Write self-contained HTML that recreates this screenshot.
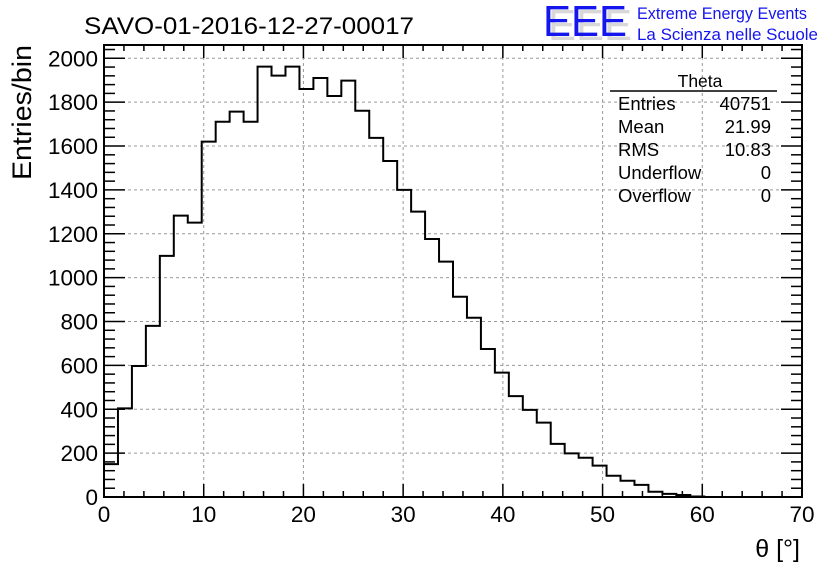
<!DOCTYPE html>
<html><head><meta charset="utf-8"><style>
html,body{margin:0;padding:0;background:#fff}
svg{display:block}
text{font-family:"Liberation Sans",sans-serif}
</style></head><body>
<svg width="836" height="572" viewBox="0 0 836 572" xmlns="http://www.w3.org/2000/svg">
<rect width="836" height="572" fill="#fff"/>
<text x="84" y="34" font-size="24" textLength="330" lengthAdjust="spacingAndGlyphs">SAVO-01-2016-12-27-00017</text>
<text x="548" y="40" font-size="44" fill="#d8d8d8" textLength="84" lengthAdjust="spacingAndGlyphs">EEE</text>
<text x="543" y="36" font-size="44" fill="#1515ee" textLength="84" lengthAdjust="spacingAndGlyphs">EEE</text>
<text x="637" y="19" font-size="16.5" fill="#1515ee" textLength="170" lengthAdjust="spacingAndGlyphs">Extreme Energy Events</text>
<text x="637" y="40" font-size="16.5" fill="#1515ee" textLength="181" lengthAdjust="spacingAndGlyphs">La Scienza nelle Scuole</text>
<g id="grid" stroke="#999" stroke-width="1" stroke-dasharray="3,3"></g>
<path id="hist" fill="none" stroke="#000" stroke-width="2"/>
<g id="ticks" stroke="#000" stroke-width="1.5"></g>
<rect x="104" y="45" width="698" height="452" fill="none" stroke="#000" stroke-width="2"/>
<g id="labels" font-size="22.5"></g>
<text transform="translate(31,180) rotate(-90)" font-size="27" textLength="135" lengthAdjust="spacingAndGlyphs">Entries/bin</text>
<text x="800" y="557" font-size="25" text-anchor="end">θ [°]</text>
<text x="700" y="87" font-size="17.5" text-anchor="middle">Theta</text>
<line x1="610" y1="91" x2="777" y2="91" stroke="#000" stroke-width="1.5"/>
<g font-size="18.5">
<text x="618" y="110">Entries</text><text x="771" y="110" text-anchor="end">40751</text>
<text x="618" y="133">Mean</text><text x="771" y="133" text-anchor="end">21.99</text>
<text x="618" y="156">RMS</text><text x="771" y="156" text-anchor="end">10.83</text>
<text x="618" y="179">Underflow</text><text x="771" y="179" text-anchor="end">0</text>
<text x="618" y="202">Overflow</text><text x="771" y="202" text-anchor="end">0</text>
</g>
<script>
var X=function(v){return 104+v*698/70},Y=function(v){return 497-v*0.21935};
var ns="http://www.w3.org/2000/svg";
function el(p,t,a,txt){var e=document.createElementNS(ns,t);for(var k in a)e.setAttribute(k,a[k]);if(txt!==undefined)e.textContent=txt;p.appendChild(e);return e;}
var g=document.getElementById('grid'),tk=document.getElementById('ticks'),lb=document.getElementById('labels');
for(var i=10;i<70;i+=10)el(g,'line',{x1:X(i),x2:X(i),y1:45,y2:497});
for(var v=200;v<=2000;v+=200)el(g,'line',{x1:104,x2:802,y1:Y(v),y2:Y(v)});
for(var i=0;i<=70;i+=2){var L=(i%10==0)?13:6;var x=X(i);
el(tk,'line',{x1:x,x2:x,y1:497,y2:497-L});el(tk,'line',{x1:x,x2:x,y1:45,y2:45+L});}
for(var v=0;v<=2060;v+=40){var y=Y(v);if(y<45)break;var L=(v%200==0)?21:11;
el(tk,'line',{x1:104,x2:104+L,y1:y,y2:y});el(tk,'line',{x1:802,x2:802-L,y1:y,y2:y});}
for(var i=0;i<=70;i+=10)el(lb,'text',{x:X(i),y:522,'text-anchor':'middle'},''+i);
for(var v=0;v<=2000;v+=200)el(lb,'text',{x:98,y:Y(v)+8,'text-anchor':'end'},''+v);
var d=[150,404,597,780,1099,1283,1251,1620,1711,1757,1711,1962,1921,1962,1860,1910,1828,1898,1761,1637,1532,1400,1301,1176,1073,913,817,675,567,460,397,339,242,199,179,143,97,74,55,24,14,9,2,0,0,0,0,0,0,0];
var w=1.4,p='M'+X(0)+','+Y(0);
for(var k=0;k<43;k++){p+=' L'+X(k*w)+','+Y(d[k])+' L'+X((k+1)*w)+','+Y(d[k]);}
p+=' L'+X(43*w)+','+Y(0);
document.getElementById('hist').setAttribute('d',p);
</script>
</svg>
</body></html>
